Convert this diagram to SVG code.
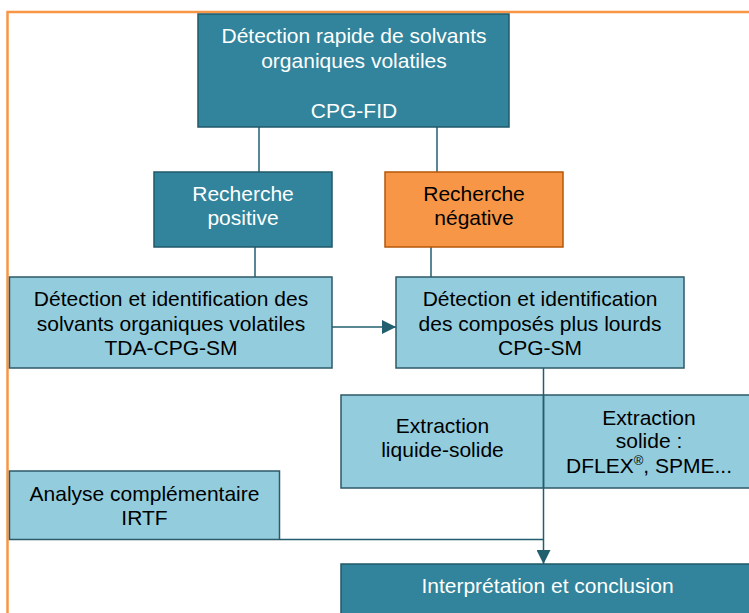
<svg xmlns="http://www.w3.org/2000/svg" width="749" height="613" viewBox="0 0 749 613">
<style>
.t{font-family:"Liberation Sans",Arial,sans-serif;font-size:21px;text-anchor:middle}
.w{fill:#ffffff}
.k{fill:#000000}
.dark{fill:#31849B;stroke:#215968;stroke-width:1.5}
.light{fill:#93CDDD;stroke:#2E5A68;stroke-width:1.5}
.orange{fill:#F79646;stroke:#B65708;stroke-width:1.5}
.c{stroke:#215E6E;stroke-width:1.5;fill:none}
</style>
<defs>
<marker id="ah" markerWidth="14" markerHeight="14" refX="14" refY="7" orient="auto" markerUnits="userSpaceOnUse">
<path d="M0,0 L14,7 L0,14 Z" fill="#215E6E"/>
</marker>
</defs>
<rect x="0" y="0" width="749" height="613" fill="#ffffff"/>
<rect id="frame" x="7.5" y="12" width="800" height="700" fill="none" stroke="#F79646" stroke-width="2.5"/>
<g id="connectors">
<line class="c" x1="259" y1="127" x2="259" y2="172"/>
<line class="c" x1="437" y1="127" x2="437" y2="172"/>
<line class="c" x1="255" y1="247" x2="255" y2="277"/>
<line class="c" x1="431" y1="247" x2="431" y2="277"/>
<line class="c" x1="332" y1="327" x2="396" y2="327" marker-end="url(#ah)"/>
<line class="c" x1="280" y1="539.5" x2="543.5" y2="539.5" stroke="#4F7480"/>
</g>
<g id="n1">
<rect class="dark" x="198" y="14" width="311" height="113"/>
<text class="t w" x="354" y="43">Détection rapide de solvants</text>
<text class="t w" x="354" y="68">organiques volatiles</text>
<text class="t w" x="354" y="118">CPG-FID</text>
</g>
<g id="n2">
<rect class="dark" x="154" y="172" width="178" height="75"/>
<text class="t w" x="243" y="201">Recherche</text>
<text class="t w" x="243" y="225">positive</text>
</g>
<g id="n3">
<rect class="orange" x="385" y="172" width="178" height="75"/>
<text class="t k" x="474" y="201">Recherche</text>
<text class="t k" x="474" y="225">négative</text>
</g>
<g id="n4">
<rect class="light" x="9.5" y="277" width="322.5" height="91"/>
<text class="t k" x="171" y="306">Détection et identification des</text>
<text class="t k" x="171" y="331">solvants organiques volatiles</text>
<text class="t k" x="171" y="355">TDA-CPG-SM</text>
</g>
<g id="n5">
<rect class="light" x="396" y="277" width="288" height="91"/>
<text class="t k" x="540" y="306">Détection et identification</text>
<text class="t k" x="540" y="331">des composés plus lourds</text>
<text class="t k" x="540" y="355">CPG-SM</text>
</g>
<g id="n6">
<rect class="light" x="341" y="395" width="420" height="93"/>
<text class="t k" x="442.5" y="433">Extraction</text>
<text class="t k" x="442.5" y="457">liquide-solide</text>
</g>
<g id="n7">
<line x1="543.5" y1="395" x2="543.5" y2="488" stroke="#2E5A68" stroke-width="1.5"/>
<text class="t k" x="649" y="425">Extraction</text>
<text class="t k" x="649" y="448">solide :</text>
<text class="t k" x="649" y="473">DFLEX<tspan font-size="13" dy="-8">®</tspan><tspan dy="8">, SPME...</tspan></text>
</g>
<g id="n8">
<rect class="light" x="9.5" y="471" width="270" height="68.5"/>
<text class="t k" x="144.5" y="501">Analyse complémentaire</text>
<text class="t k" x="144.5" y="525">IRTF</text>
</g>
<g id="n9">
<rect class="dark" x="341" y="564" width="420" height="70"/>
<text class="t w" x="547.5" y="593">Interprétation et conclusion</text>
</g>
<g id="connectors2">
<line class="c" x1="543.5" y1="368" x2="543.5" y2="564" marker-end="url(#ah)"/>
</g>
</svg>
